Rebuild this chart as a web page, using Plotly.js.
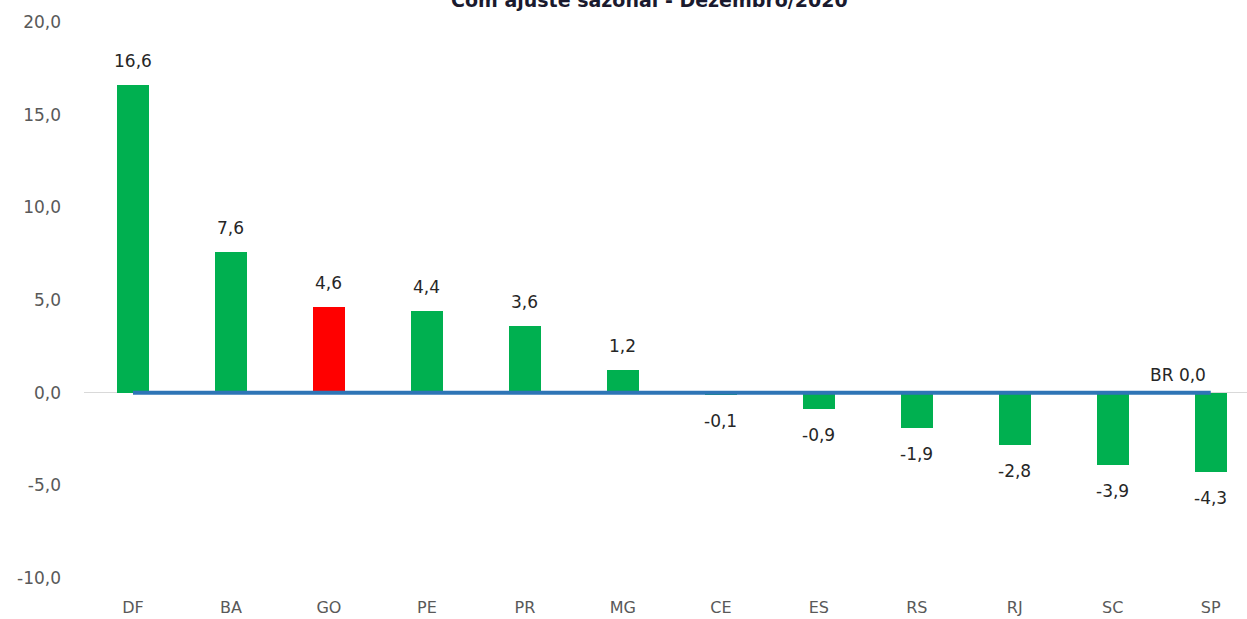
<!DOCTYPE html>
<html>
<head>
<meta charset="utf-8">
<script src="https://cdn.plot.ly/plotly-3.0.1.min.js"></script>
<style>html,body{margin:0;padding:0;background:#fff;}#chart{width:1247px;height:619px;}</style>
</head>
<body>
<div id="chart"></div>
<script>
const categories = ["DF","BA","GO","PE","PR","MG","CE","ES","RS","RJ","SC","SP"];
const values = [16.6, 7.6, 4.6, 4.4, 3.6, 1.2, -0.1, -0.9, -1.9, -2.8, -3.9, -4.3];
const highlight = "GO";
const brValue = 0.0;
const brLabel = "BR 0,0";
const titleText = "Com ajuste sazonal - Dezembro/2020";
const yTicks = [-10, -5, 0, 5, 10, 15, 20];

const FONT = "'DejaVu Sans', Verdana, sans-serif";
const fmt = v => v.toFixed(1).replace('.', ',');
const barColors = categories.map(c => c === highlight ? "#FF0000" : "#00B050");

const bars = {
  type: "bar",
  x: categories,
  y: values,
  marker: {color: barColors},
  width: 0.33,
  hoverinfo: "skip",
  showlegend: false
};
const brLine = {
  type: "scatter",
  mode: "lines",
  x: categories,
  y: categories.map(() => brValue),
  line: {color: "#2E75B6", width: 4},
  hoverinfo: "skip",
  showlegend: false
};

const annotations = values.map((v, i) => ({
  x: categories[i], y: v, xref: "x", yref: "y",
  text: fmt(v), showarrow: false,
  yanchor: v >= 0 ? "bottom" : "top",
  yshift: v >= 0 ? 12 : -14,
  font: {family: FONT, size: 17, color: "#262626"}
}));
annotations.push({
  x: categories.length - 1, y: brValue, xref: "x", yref: "y",
  text: brLabel, showarrow: false, xshift: -33, yanchor: "bottom", yshift: 6,
  font: {family: FONT, size: 17, color: "#262626"}
});
annotations.push({
  x: 0.486, y: 1, xref: "paper", yref: "paper",
  text: "<b>" + titleText + "</b>", showarrow: false,
  yanchor: "bottom", yshift: 9,
  font: {family: FONT, size: 19, color: "#1a1a2e"}
});

const layout = {
  width: 1247, height: 619,
  margin: {l: 84, r: 0, t: 22, b: 41},
  paper_bgcolor: "#fff", plot_bgcolor: "#fff",
  separators: ",.",
  xaxis: {
    type: "category",
    range: [-0.5, 11.37],
    showgrid: false, zeroline: false, showline: false, ticks: "",
    ticklabelstandoff: 18,
    tickfont: {family: FONT, size: 16, color: "#595959"}
  },
  yaxis: {
    range: [-10, 20],
    tickvals: yTicks,
    ticktext: yTicks.map(fmt),
    showgrid: false,
    zeroline: true, zerolinecolor: "#D9D9D9", zerolinewidth: 1,
    showline: false, ticks: "",
    ticklabelstandoff: 22,
    tickfont: {family: FONT, size: 17, color: "#595959"}
  },
  annotations: annotations,
  bargap: 0
};

Plotly.newPlot("chart", [bars, brLine], layout, {displayModeBar: false, staticPlot: true});
</script>
</body>
</html>
